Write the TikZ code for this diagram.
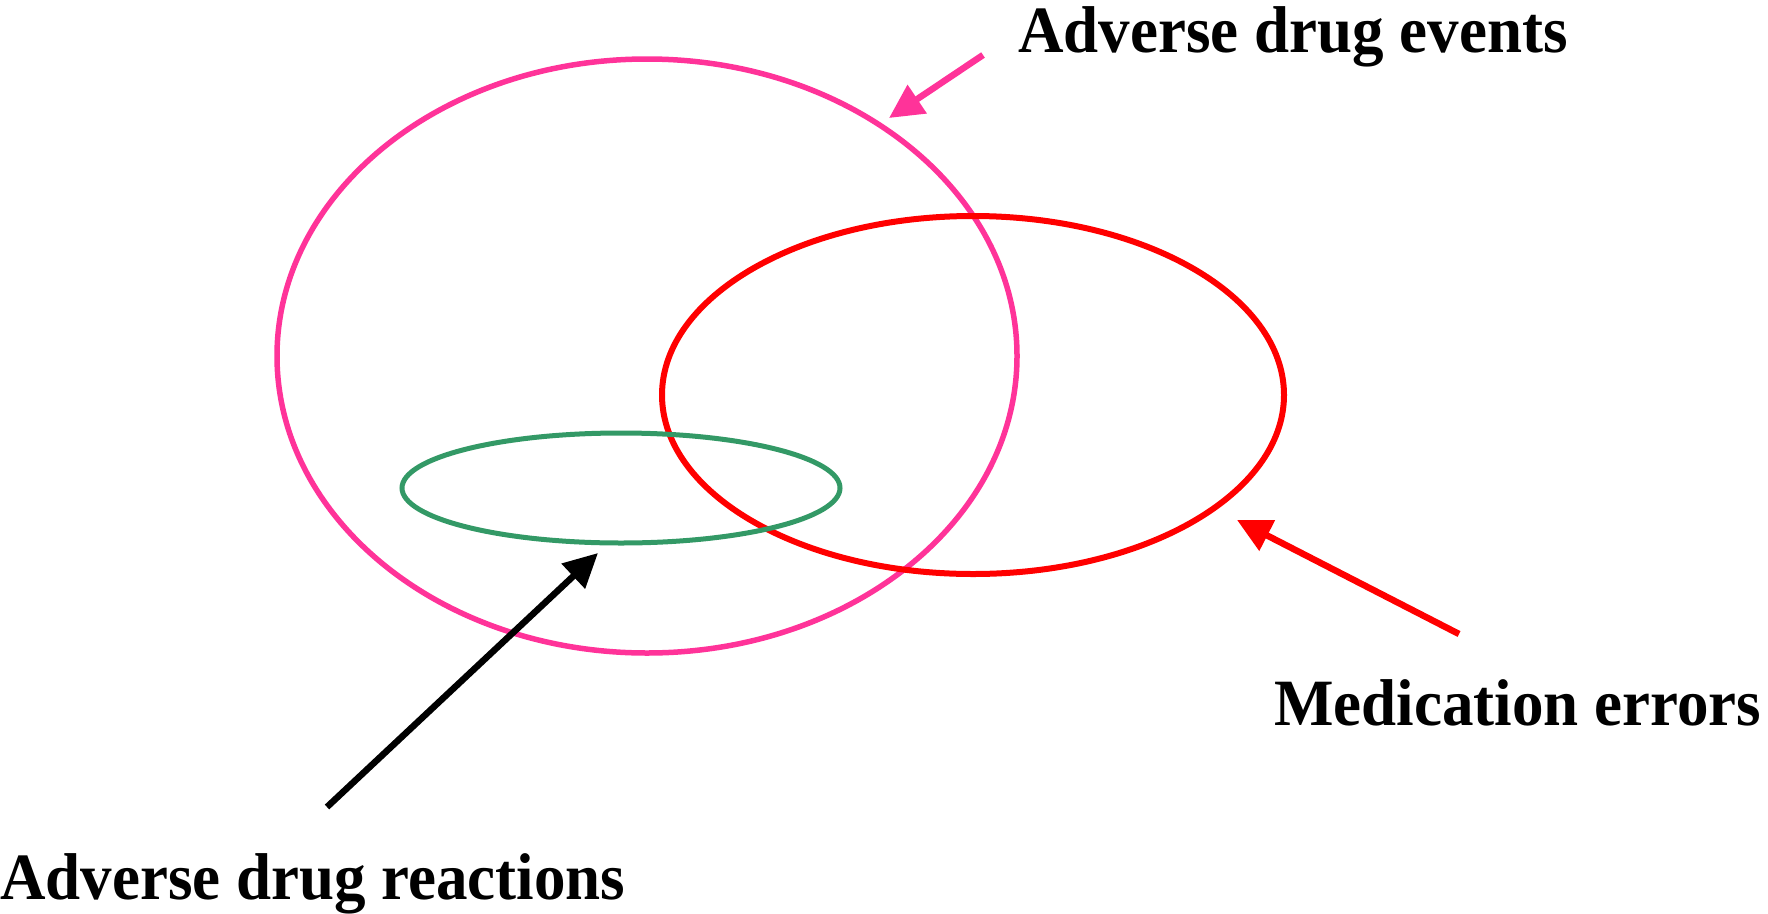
\documentclass[tikz,border=0pt]{standalone}
\usepackage{fontspec}
\setmainfont{Liberation Serif}
\usetikzlibrary{arrows.meta}
\definecolor{adepink}{RGB}{255,51,153}
\definecolor{mered}{RGB}{255,0,0}
\definecolor{adrgreen}{RGB}{51,153,102}
\tikzset{
  ring/.style={line width=5.5pt},
  lbl/.style={font=\fontsize{63}{70}\selectfont\bfseries, inner sep=0pt, anchor=base west, text height=45pt, text depth=14pt},
  pointer/.style={line width=6.5pt, -{Triangle[length=34pt,width=33pt]}}
}
\newcommand{\tallText}[1]{\scalebox{1}[1.05]{#1}}
\begin{document}
\begin{tikzpicture}[x=1pt,y=-1pt]
\useasboundingbox (0,0) rectangle (1768,913);
\coordinate (ade) at (647,356);
\coordinate (me) at (973,395);
\coordinate (adr) at (621,488);
\draw[ring, adepink] (ade) ellipse [x radius=370, y radius=297];
\draw[ring, mered, line width=6pt] (me) ellipse [x radius=311, y radius=179];
\draw[ring, adrgreen, line width=5pt] (adr) ellipse [x radius=219, y radius=55];
\node[lbl] (tade) at (1018,52) {\tallText{Adverse drug events}};
\node[lbl] (tme) at (1274,725) {\tallText{Medication errors}};
\node[lbl] (tadr) at (0,899) {\tallText{Adverse drug reactions}};
\coordinate (pa1) at (983,55);
\coordinate (pa2) at (889,118);
\coordinate (ra1) at (1459,634);
\coordinate (ra2) at (1237,520);
\coordinate (ba1) at (327,807);
\coordinate (ba2) at (598,553);
\draw[pointer, adepink] (pa1) -- (pa2);
\draw[pointer, mered] (ra1) -- (ra2);
\draw[pointer, black] (ba1) -- (ba2);
\end{tikzpicture}
\end{document}
